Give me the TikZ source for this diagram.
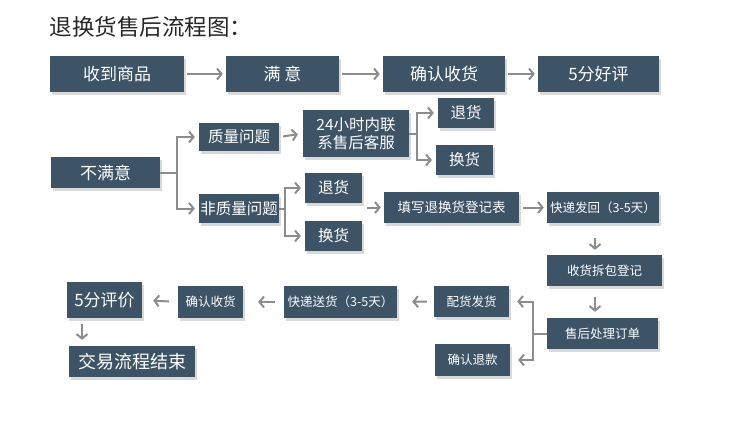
\documentclass[tikz,border=0pt]{standalone}
\usepackage{fontspec}
\newfontfamily\cjk{Noto Sans CJK SC}
\usetikzlibrary{arrows.meta,shadows}

\definecolor{boxblue}{HTML}{3D5366}
\definecolor{linkgray}{HTML}{8C8C8C}

\tikzset{
  stepbox/.style={fill=boxblue, text=white, inner sep=0pt, align=center,
    drop shadow={shadow xshift=2pt, shadow yshift=-3pt, opacity=0.3}},
  bigtext/.style={font=\cjk\fontsize{17}{20}\selectfont},
  midtext/.style={font=\cjk\fontsize{15.5}{18}\selectfont},
  smalltext/.style={font=\cjk\fontsize{12.5}{15}\selectfont},
  trunk/.style={draw=linkgray, line width=2pt},
  link/.style={trunk, -{Straight Barb[length=4.5pt,width=11pt]}},
}

\begin{document}
\begin{tikzpicture}[x=1pt, y=-1pt]

  \useasboundingbox (0,0) rectangle (750,432);

  % Titel
  \node[anchor=west, text=black!85, font=\cjk\fontsize{22.5}{26}\selectfont]
    (title) at (46,27) {退换货售后流程图：};

  % Eerste rij
  \node[stepbox, bigtext, minimum width=134, minimum height=36] (get)       at (117,74)   {收到商品};
  \node[stepbox, bigtext, minimum width=113, minimum height=36] (satisfied) at (282.5,74) {满 意};
  \node[stepbox, bigtext, minimum width=122, minimum height=36] (confirm)   at (444,74)   {确认收货};
  \node[stepbox, bigtext, minimum width=121, minimum height=36] (praise)    at (598.5,74) {5分好评};

  \draw[link, shorten <=3pt, shorten >=3pt] (get.east) -- (satisfied.west);
  \draw[link, shorten <=3pt, shorten >=3pt] (satisfied.east) -- (confirm.west);
  \draw[link, shorten <=3pt, shorten >=3pt] (confirm.east) -- (praise.west);

  % Niet tevreden
  \node[stepbox, bigtext, minimum width=109, minimum height=31] (unhappy)    at (105.5,172.5) {不满意};
  \node[stepbox, midtext, minimum width=80,  minimum height=28] (quality)    at (239,137)     {质量问题};
  \node[stepbox, midtext, minimum width=80,  minimum height=29] (nonquality) at (239,208.5)   {非质量问题};

  \coordinate (qsplit) at (177,172.5);
  \draw[trunk] (unhappy.east) -- (qsplit);
  \draw[link, shorten >=4pt] (qsplit) |- (quality.west);
  \draw[link, shorten >=4pt] (qsplit) |- (nonquality.west);

  % Kwaliteitsprobleem
  \node[stepbox, midtext, minimum width=106, minimum height=47] (contact)   at (356,133.5) {24小时内联\\系售后客服};
  \node[stepbox, midtext, minimum width=56,  minimum height=30] (qreturn)   at (466,113)   {退货};
  \node[stepbox, midtext, minimum width=57,  minimum height=30] (qexchange) at (464.5,160)  {换货};

  \draw[link, shorten <=4pt, shorten >=5pt] (quality.east) -- (contact.west);
  \coordinate (csplit) at (417,133.5);
  \draw[trunk] (contact.east) -- (csplit);
  \draw[link, shorten >=4pt] (csplit) |- (qreturn.west);
  \draw[link, shorten >=4pt] (csplit) |- (qexchange.west);

  % Geen kwaliteitsprobleem
  \node[stepbox, midtext, minimum width=57, minimum height=30] (nreturn)   at (333.5,188) {退货};
  \node[stepbox, midtext, minimum width=57, minimum height=30] (nexchange) at (333.5,236) {换货};

  \coordinate (nsplit) at (285,208.5);
  \draw[trunk] (nonquality.east) -- (nsplit);
  \draw[link, shorten >=4pt] (nsplit) |- (nreturn.west);
  \draw[link, shorten >=4pt] (nsplit) |- (nexchange.west);

  % Terugsturen
  \node[stepbox, smalltext, font=\cjk\fontsize{13.5}{16}\selectfont,
        minimum width=135, minimum height=31] (form) at (451.5,207.5) {填写退换货登记表};
  \node[stepbox, smalltext, minimum width=112, minimum height=31] (sendback) at (603,207.5)   {快递发回（3-5天）};
  \node[stepbox, smalltext, minimum width=115, minimum height=31] (unpack)   at (604.5,270.5) {收货拆包登记};
  \node[stepbox, smalltext, minimum width=111, minimum height=31] (process)  at (602.5,333.5) {售后处理订单};

  \coordinate (nfeed) at (367,207.5);
  \draw[link, shorten >=3pt] (nfeed) -- (form.west);
  \draw[link, shorten <=4pt, shorten >=3pt] (form.east) -- (sendback.west);
  \draw[link, shorten <=15pt, shorten >=5pt]
    ([xshift=-8pt]sendback.south) -- ([xshift=-8pt]sendback.south |- unpack.north);
  \draw[link, shorten <=11pt, shorten >=6pt]
    ([xshift=-9.5pt]unpack.south) -- ([xshift=-9.5pt]unpack.south |- process.north);

  % Afhandeling
  \node[stepbox, smalltext, minimum width=75, minimum height=31] (ship)   at (471.5,301.5) {配货发货};
  \node[stepbox, smalltext, minimum width=75, minimum height=32] (refund) at (472.5,360)   {确认退款};

  \coordinate (psplit) at (533,333.5);
  \draw[trunk] (process.west) -- (psplit);
  \draw[link, shorten >=8pt] (psplit) |- (ship.east);
  \draw[link, shorten >=8pt] (psplit) |- (refund.east);

  % Onderste rij
  \node[stepbox, smalltext, minimum width=113, minimum height=32] (deliver) at (340.5,302) {快递送货（3-5天）};
  \node[stepbox, smalltext, minimum width=65,  minimum height=32] (receive) at (210.5,302) {确认收货};
  \node[stepbox, bigtext,   minimum width=75,  minimum height=36] (rate)    at (104.5,300) {5分评价};
  \node[stepbox, bigtext, font=\cjk\fontsize{18}{21}\selectfont,
        minimum width=126, minimum height=31] (finish) at (132,361.5) {交易流程结束};

  \draw[link, shorten <=7pt, shorten >=15pt] (ship.west) -- (deliver.east);
  \draw[link, shorten <=9pt, shorten >=15pt] (deliver.west) -- (receive.east);
  \draw[link, shorten <=9pt, shorten >=11pt] (receive.west) -- (rate.east);
  \draw[link, shorten <=6pt, shorten >=6pt]
    ([xshift=-22.5pt]rate.south) -- ([xshift=-22.5pt]rate.south |- finish.north);

\end{tikzpicture}
\end{document}
